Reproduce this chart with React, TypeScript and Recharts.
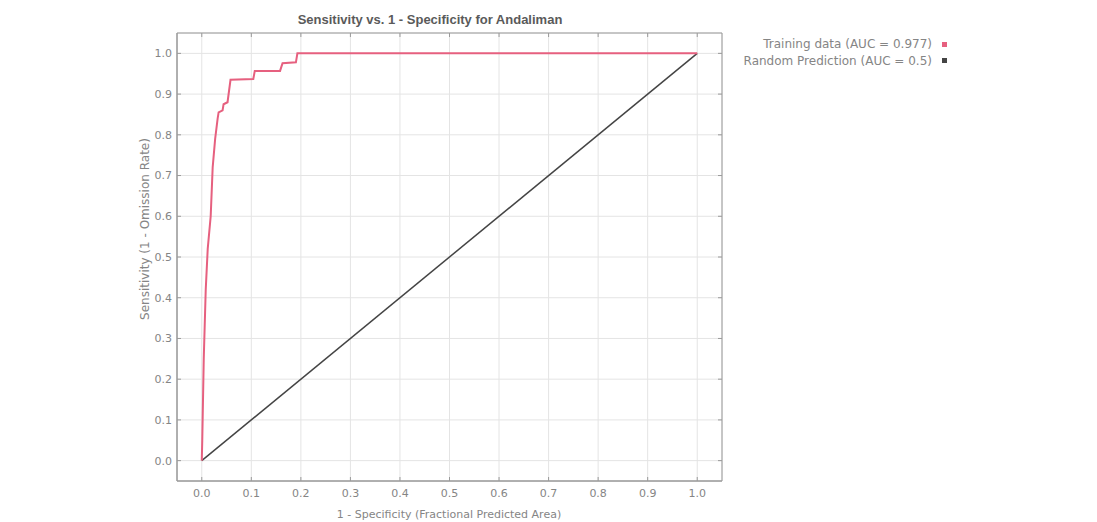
import React from 'react';
import { LineChart, Line, XAxis, YAxis, CartesianGrid } from 'recharts';

const chartTitle = 'Sensitivity vs. 1 - Specificity for Andaliman';
const xAxisTitle = '1 - Specificity  (Fractional Predicted Area)';
const yAxisTitle = 'Sensitivity  (1 - Omission Rate)';

const xTicks = [0, 0.1, 0.2, 0.3, 0.4, 0.5, 0.6, 0.7, 0.8, 0.9, 1.0];
const yTicks = [0, 0.1, 0.2, 0.3, 0.4, 0.5, 0.6, 0.7, 0.8, 0.9, 1.0];

const seriesNames = ['Training data (AUC = 0.977)', 'Random Prediction (AUC = 0.5)'];
const seriesColors = ['#e6607f', '#444444'];

const trainingX = [0, 0.001, 0.004, 0.008, 0.012, 0.018, 0.022, 0.027, 0.032, 0.034, 0.042, 0.044, 0.052, 0.058, 0.104, 0.107, 0.158, 0.163, 0.19, 0.193, 1.0];
const trainingY = [0, 0.05, 0.25, 0.42, 0.52, 0.6, 0.72, 0.79, 0.84, 0.855, 0.86, 0.875, 0.88, 0.935, 0.937, 0.957, 0.957, 0.976, 0.978, 1.0, 1.0];

const randomX = [0, 1];
const randomY = [0, 1];

const trainingData = trainingX.map((x, i) => ({ x, y: trainingY[i] }));
const randomData = randomX.map((x, i) => ({ x, y: randomY[i] }));

const DOMAIN: [number, number] = [-0.05, 1.05];
const FRAME = '#9a9a9a';
const LABEL = '#858585';
const fmt = (v: number) => v.toFixed(1);
const blank = () => '';

export default function App() {
  return (
    <div style={{ position: 'absolute', left: 0, top: 0, width: 1097, height: 522, background: '#fff', fontFamily: '"DejaVu Sans", sans-serif' }}>
      <LineChart width={1097} height={522} margin={{ top: 33, right: 375, left: 147, bottom: 21 }}>
        <CartesianGrid stroke="#e4e4e4" strokeWidth={1} />
        <XAxis
          type="number"
          dataKey="x"
          domain={DOMAIN}
          ticks={xTicks}
          allowDataOverflow
          height={20}
          tickFormatter={fmt}
          tickLine={false}
          tickSize={0}
          tickMargin={8}
          axisLine={{ stroke: FRAME }}
          tick={{ fill: LABEL, fontSize: 11, fontFamily: 'DejaVu Sans' }}
        />
        <YAxis
          type="number"
          dataKey="y"
          domain={DOMAIN}
          ticks={yTicks}
          allowDataOverflow
          width={30}
          tickFormatter={fmt}
          tickLine={false}
          tickSize={0}
          tickMargin={5}
          axisLine={{ stroke: FRAME }}
          tick={{ fill: LABEL, fontSize: 11, fontFamily: 'DejaVu Sans' }}
        />
        <XAxis xAxisId="top" orientation="top" mirror type="number" dataKey="x" domain={DOMAIN} ticks={xTicks} allowDataOverflow tickSize={4} tickFormatter={blank} tickLine={{ stroke: FRAME }} axisLine={{ stroke: FRAME }} />
        <XAxis xAxisId="b2" orientation="bottom" mirror type="number" dataKey="x" domain={DOMAIN} ticks={xTicks} allowDataOverflow tickSize={4} tickFormatter={blank} tickLine={{ stroke: FRAME }} axisLine={{ stroke: FRAME }} />
        <YAxis yAxisId="l2" orientation="left" mirror type="number" dataKey="y" domain={DOMAIN} ticks={yTicks} allowDataOverflow tickSize={4} tickFormatter={blank} tickLine={{ stroke: FRAME }} axisLine={{ stroke: FRAME }} />
        <YAxis yAxisId="r" orientation="right" mirror type="number" dataKey="y" domain={DOMAIN} ticks={yTicks} allowDataOverflow tickSize={4} tickFormatter={blank} tickLine={{ stroke: FRAME }} axisLine={{ stroke: FRAME }} />
        <Line data={randomData} dataKey="y" type="linear" stroke={seriesColors[1]} strokeWidth={1.5} dot={false} isAnimationActive={false} name={seriesNames[1]} />
        <Line data={trainingData} dataKey="y" type="linear" stroke={seriesColors[0]} strokeWidth={2} dot={false} isAnimationActive={false} name={seriesNames[0]} />
      </LineChart>

      <div style={{ position: 'absolute', left: 0, top: 13, width: 860, textAlign: 'center', fontFamily: '"Liberation Sans", Arial, sans-serif', fontWeight: 'bold', fontSize: 13, lineHeight: '13px', color: '#5a5a5a' }}>
        {chartTitle}
      </div>

      <div style={{ position: 'absolute', left: 600, top: 36, width: 347 }}>
        {seriesNames.map((n, i) => (
          <div key={n} style={{ display: 'flex', justifyContent: 'flex-end', alignItems: 'center', height: 16.5, fontSize: 12, lineHeight: '16.5px', color: LABEL }}>
            <span>{n}</span>
            <span style={{ display: 'inline-block', width: 5, height: 5, marginLeft: 10, background: seriesColors[i] }} />
          </div>
        ))}
      </div>

      <div style={{ position: 'absolute', left: 249, top: 508, width: 400, textAlign: 'center', fontSize: 11, lineHeight: '14px', color: LABEL }}>
        {xAxisTitle}
      </div>

      <div style={{ position: 'absolute', left: 145 - 150, top: 229 - 8, width: 300, height: 16, textAlign: 'center', fontSize: 12, lineHeight: '16px', color: LABEL, transform: 'rotate(-90deg)', transformOrigin: '50% 50%' }}>
        {yAxisTitle}
      </div>
    </div>
  );
}
